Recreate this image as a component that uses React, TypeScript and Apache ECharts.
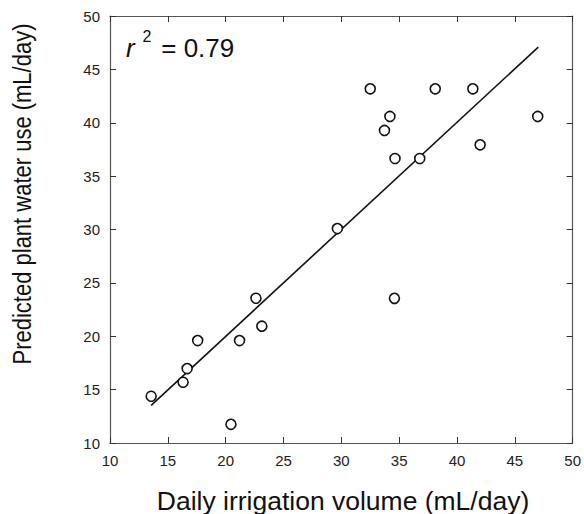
import React, { useEffect, useRef } from "react";
import * as echarts from "echarts";

const irrigation = [13.56, 16.32, 16.67, 17.58, 20.46, 21.2, 22.62, 23.13, 29.66, 32.5, 34.2, 33.73, 34.64, 36.78, 38.12, 41.37, 42.0, 46.98, 34.59];
const predicted = [14.38, 15.69, 16.97, 19.6, 11.75, 19.6, 23.56, 20.94, 30.09, 43.18, 40.59, 39.28, 36.65, 36.65, 43.18, 43.18, 37.93, 40.59, 23.55];
const fitX = [13.56, 47.03];
const fitY = [13.53, 47.09];
const xTicks = [10, 15, 20, 25, 30, 35, 40, 45, 50];
const yTicks = [10, 15, 20, 25, 30, 35, 40, 45, 50];
const xName = "Daily irrigation volume (mL/day)";
const yName = "Predicted plant water use (mL/day)";
const r2Text = " = 0.79";

const FONT = "Arial, 'Liberation Sans', Helvetica, sans-serif";
const AXIS_COLOR = "#555";

export default function App() {
  const ref = useRef<HTMLDivElement>(null);
  useEffect(() => {
    if (!ref.current) return;
    const chart = echarts.init(ref.current, undefined, { renderer: "svg" });
    const base = {
      min: xTicks[0],
      max: xTicks[xTicks.length - 1],
      interval: 5,
      splitLine: { show: false },
      axisLine: { show: true, onZero: false, lineStyle: { color: AXIS_COLOR, width: 1.2 } },
      axisTick: { show: true, inside: true, length: 6, lineStyle: { color: "#333", width: 1 } },
    };
    const ybase = {
      ...base,
      min: yTicks[0],
      max: yTicks[yTicks.length - 1],
    };
    chart.setOption({
      animation: false,
      grid: { left: 110, right: 7, top: 16, bottom: 71, containLabel: false },
      xAxis: [
        {
          ...base,
          type: "value",
          position: "bottom",
          axisLabel: { show: true, fontSize: 15, color: "#222", fontFamily: FONT, margin: 10, showMaxLabel: true, showMinLabel: true, hideOverlap: false },
        },
        { ...base, type: "value", position: "top", axisLabel: { show: false } },
      ],
      yAxis: [
        {
          ...ybase,
          type: "value",
          position: "left",
          axisLabel: { show: true, fontSize: 15, color: "#222", fontFamily: FONT, margin: 10 },
        },
        { ...ybase, type: "value", position: "right", axisLabel: { show: false } },
      ],
      series: [
        {
          type: "line",
          data: fitX.map((x, i) => [x, fitY[i]]),
          symbol: "none",
          lineStyle: { color: "#111", width: 1.6 },
          z: 2,
        },
        {
          type: "scatter",
          data: irrigation.map((x, i) => [x, predicted[i]]),
          symbol: "circle",
          symbolSize: 10,
          itemStyle: { color: "#fff", borderColor: "#111", borderWidth: 1.6, opacity: 1 },
          z: 3,
        },
      ],
      graphic: [
        {
          type: "text",
          x: 343,
          y: 501,
          scaleX: 1.06,
          style: { text: xName, font: `25px ${FONT}`, fill: "#111", textAlign: "center", textVerticalAlign: "middle" },
        },
        {
          type: "text",
          x: 23,
          y: 194,
          rotation: Math.PI / 2,
          scaleX: 0.88,
          style: { text: yName, font: `25px ${FONT}`, fill: "#111", textAlign: "center", textVerticalAlign: "middle" },
        },
        {
          type: "text",
          x: 126,
          y: 47.5,
          style: { text: "r", font: `italic 26px ${FONT}`, fill: "#111", textAlign: "left", textVerticalAlign: "middle" },
        },
        {
          type: "text",
          x: 142.5,
          y: 36,
          style: { text: "2", font: `16px ${FONT}`, fill: "#111", textAlign: "left", textVerticalAlign: "middle" },
        },
        {
          type: "text",
          x: 154,
          y: 47.5,
          style: { text: r2Text, font: `26px ${FONT}`, fill: "#111", textAlign: "left", textVerticalAlign: "middle" },
        },
      ],
    });
    return () => chart.dispose();
  }, []);
  return <div ref={ref} style={{ position: "fixed", left: 0, top: 0, width: 584, height: 514, background: "#fff" }} />;
}
